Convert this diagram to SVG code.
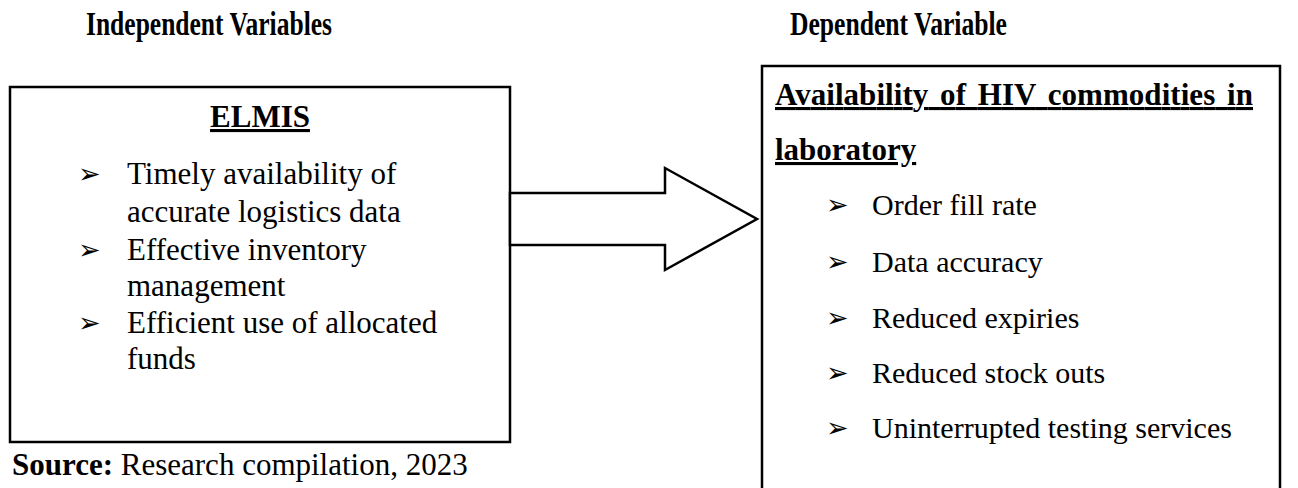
<svg xmlns="http://www.w3.org/2000/svg" width="1298" height="488" viewBox="0 0 1298 488">
<style>
.hd{font-family:"Liberation Serif","Times New Roman",serif;font-weight:bold;font-size:33px;fill:#000}
.tb{font-family:"Liberation Serif","Times New Roman",serif;font-weight:bold;font-size:31px;fill:#000}
.t{font-family:"Liberation Serif","Times New Roman",serif;font-size:31px;fill:#000}
.tr{font-family:"Liberation Serif","Times New Roman",serif;font-size:30px;fill:#000}
.bul{font-family:"DejaVu Sans",sans-serif;font-size:27px;fill:#000}
.box{fill:#fff;stroke:#000;stroke-width:2.5}
.u{text-decoration:underline}
</style>
<rect width="1298" height="488" fill="#fff"/>
<text class="hd" x="86" y="35" textLength="246" lengthAdjust="spacingAndGlyphs">Independent Variables</text>
<text class="hd" x="790" y="35" textLength="217" lengthAdjust="spacingAndGlyphs">Dependent Variable</text>
<g id="node-elmis">
<rect class="box" x="10" y="87" width="500" height="355"/>
<text class="tb u" x="260" y="127" text-anchor="middle">ELMIS</text>
<text class="bul" x="78" y="183">➢</text>
<text class="t" x="127" y="184">Timely availability of</text>
<text class="t" x="127" y="222">accurate logistics data</text>
<text class="bul" x="78" y="259">➢</text>
<text class="t" x="127" y="260">Effective inventory</text>
<text class="t" x="127" y="296">management</text>
<text class="bul" x="78" y="332">➢</text>
<text class="t" x="127" y="333">Efficient use of allocated</text>
<text class="t" x="127" y="369">funds</text>
</g>
<g id="node-availability">
<rect class="box" x="762" y="66" width="518" height="440"/>
<text class="tb u" x="775" y="105" textLength="478" lengthAdjust="spacing" word-spacing="4">Availability of HIV commodities in</text>
<text class="tb u" x="775" y="160">laboratory</text>
<text class="bul" x="826" y="214">➢</text>
<text class="tr" x="872" y="215">Order fill rate</text>
<text class="bul" x="826" y="271">➢</text>
<text class="tr" x="872" y="272">Data accuracy</text>
<text class="bul" x="826" y="327">➢</text>
<text class="tr" x="872" y="328">Reduced expiries</text>
<text class="bul" x="826" y="382">➢</text>
<text class="tr" x="872" y="383">Reduced stock outs</text>
<text class="bul" x="826" y="437">➢</text>
<text class="tr" x="872" y="438">Uninterrupted testing services</text>
</g>
<g id="connectors">
<polygon points="510,193 665,193 665,168 757,219 665,270 665,245 510,245" fill="#fff" stroke="#000" stroke-width="2.5" stroke-linejoin="miter"/>
</g>
<g id="source">
<text class="t" x="12" y="475"><tspan font-weight="bold">Source:</tspan> Research compilation, 2023</text>
</g>
</svg>
